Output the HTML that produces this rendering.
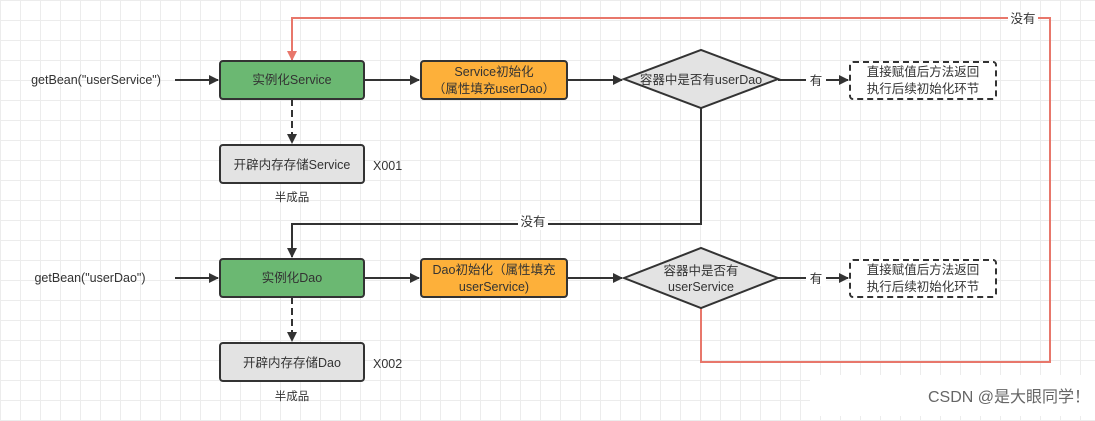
<!DOCTYPE html>
<html><head><meta charset="utf-8"><style>
body{margin:0;width:1095px;height:416px;overflow:hidden;background:#fff;
background-image:linear-gradient(#ececec 1px,transparent 1px),linear-gradient(90deg,#ececec 1px,transparent 1px);background-size:20px 20px;}
svg text{font-family:"Liberation Sans","Noto Sans CJK SC",sans-serif;font-size:12.5px;fill:#333;}
</style></head><body>
<svg width="1095" height="416" xmlns="http://www.w3.org/2000/svg">
<defs>
<marker id="a" markerWidth="10" markerHeight="10" refX="9" refY="5" orient="auto" markerUnits="userSpaceOnUse"><path d="M0,0 L10,5 L0,10 z" fill="#333"/></marker>
<marker id="r" markerWidth="10" markerHeight="10" refX="9" refY="5" orient="auto" markerUnits="userSpaceOnUse"><path d="M0,0 L10,5 L0,10 z" fill="#e8776b"/></marker>
</defs>
<!-- red loop -->
<polyline points="701,305 701,362 1050,362 1050,18 292,18 292,60" fill="none" stroke="#e8776b" stroke-width="2" marker-end="url(#r)"/>
<rect x="1008" y="10" width="30" height="16" fill="#fff"/>
<text x="1023" y="23" text-anchor="middle">没有</text>
<!-- top row -->
<text x="96" y="84" text-anchor="middle">getBean("userService")</text>
<line x1="175" y1="80" x2="218" y2="80" stroke="#333" stroke-width="2" marker-end="url(#a)"/>
<rect x="220" y="61" width="144" height="38" rx="3" fill="#6bb872" stroke="#333" stroke-width="2"/>
<text x="292" y="84" text-anchor="middle">实例化Service</text>
<line x1="364" y1="80" x2="419" y2="80" stroke="#333" stroke-width="2" marker-end="url(#a)"/>
<rect x="421" y="61" width="146" height="38" rx="3" fill="#fdb03a" stroke="#333" stroke-width="2"/>
<text x="494" y="76" text-anchor="middle">Service初始化</text>
<text x="494" y="93" text-anchor="middle">（属性填充userDao）</text>
<line x1="567" y1="80" x2="622" y2="80" stroke="#333" stroke-width="2" marker-end="url(#a)"/>
<polygon points="624,79 701,50 778,79 701,108" fill="#e3e3e3" stroke="#333" stroke-width="2"/>
<text x="701" y="84" text-anchor="middle">容器中是否有userDao</text>
<line x1="778" y1="80" x2="848" y2="80" stroke="#333" stroke-width="2" marker-end="url(#a)"/>
<rect x="806" y="72" width="20" height="16" fill="#fff"/>
<text x="816" y="85" text-anchor="middle">有</text>
<rect x="850" y="62" width="146" height="37" rx="3" fill="#fff" stroke="#333" stroke-width="2" stroke-dasharray="6,4"/>
<text x="923" y="76" text-anchor="middle">直接赋值后方法返回</text>
<text x="923" y="93" text-anchor="middle">执行后续初始化环节</text>
<line x1="292" y1="99" x2="292" y2="143" stroke="#333" stroke-width="2" stroke-dasharray="7,4" marker-end="url(#a)"/>
<rect x="220" y="145" width="144" height="38" rx="3" fill="#e3e3e3" stroke="#333" stroke-width="2"/>
<text x="292" y="169" text-anchor="middle">开辟内存存储Service</text>
<text x="373" y="170">X001</text>
<text x="292" y="201" text-anchor="middle" style="font-size:11.5px">半成品</text>
<!-- 没有 connector -->
<polyline points="701,108 701,224 292,224 292,257" fill="none" stroke="#333" stroke-width="2" marker-end="url(#a)"/>
<rect x="518" y="214" width="30" height="16" fill="#fff"/>
<text x="533" y="226" text-anchor="middle">没有</text>
<!-- bottom row -->
<text x="90" y="282" text-anchor="middle">getBean("userDao")</text>
<line x1="175" y1="278" x2="218" y2="278" stroke="#333" stroke-width="2" marker-end="url(#a)"/>
<rect x="220" y="259" width="144" height="38" rx="3" fill="#6bb872" stroke="#333" stroke-width="2"/>
<text x="292" y="282" text-anchor="middle">实例化Dao</text>
<line x1="364" y1="278" x2="419" y2="278" stroke="#333" stroke-width="2" marker-end="url(#a)"/>
<rect x="421" y="259" width="146" height="38" rx="3" fill="#fdb03a" stroke="#333" stroke-width="2"/>
<text x="494" y="274" text-anchor="middle">Dao初始化（属性填充</text>
<text x="494" y="291" text-anchor="middle">userService)</text>
<line x1="567" y1="278" x2="622" y2="278" stroke="#333" stroke-width="2" marker-end="url(#a)"/>
<polygon points="624,278 701,248 778,278 701,308" fill="#e3e3e3" stroke="#333" stroke-width="2"/>
<text x="701" y="275" text-anchor="middle">容器中是否有</text>
<text x="701" y="291" text-anchor="middle">userService</text>
<line x1="778" y1="278" x2="848" y2="278" stroke="#333" stroke-width="2" marker-end="url(#a)"/>
<rect x="806" y="270" width="20" height="16" fill="#fff"/>
<text x="816" y="283" text-anchor="middle">有</text>
<rect x="850" y="260" width="146" height="37" rx="3" fill="#fff" stroke="#333" stroke-width="2" stroke-dasharray="6,4"/>
<text x="923" y="274" text-anchor="middle">直接赋值后方法返回</text>
<text x="923" y="291" text-anchor="middle">执行后续初始化环节</text>
<line x1="292" y1="297" x2="292" y2="341" stroke="#333" stroke-width="2" stroke-dasharray="7,4" marker-end="url(#a)"/>
<rect x="220" y="343" width="144" height="38" rx="3" fill="#e3e3e3" stroke="#333" stroke-width="2"/>
<text x="292" y="367" text-anchor="middle">开辟内存存储Dao</text>
<text x="373" y="368">X002</text>
<text x="292" y="400" text-anchor="middle" style="font-size:11.5px">半成品</text>
<rect x="810" y="375" width="285" height="41" fill="#fff"/>
<text x="1090" y="402" text-anchor="end" style="font-size:16px;fill:#666">CSDN @是大眼同学！</text>
</svg>
</body></html>
